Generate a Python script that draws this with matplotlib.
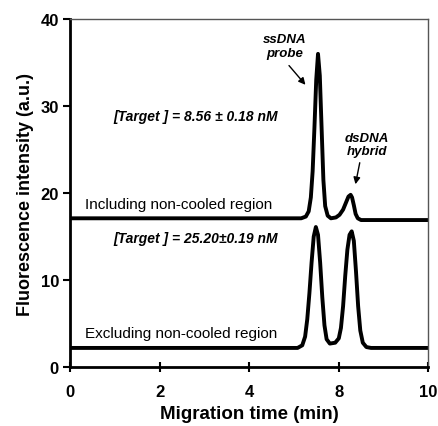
import numpy as np
import matplotlib
matplotlib.use('Agg')
import matplotlib.pyplot as plt

plt.rcParams['font.family'] = ['Liberation Sans', 'DejaVu Sans']

# axis positions are drawn with equal spacing, labels as printed on the original
xtick_pos = [0, 2.5, 5, 7.5, 10]
xtick_lab = ['0', '2', '4', '8', '10']
ytick_pos = [0, 10, 20, 30, 40]

# upper trace: including non-cooled region
x_inc = [0, 6.45, 6.58, 6.66, 6.72, 6.77, 6.82, 6.87, 6.92, 6.97, 7.02, 7.07, 7.12,
         7.19, 7.28, 7.42, 7.52, 7.62, 7.70, 7.77, 7.83, 7.87, 7.92, 7.97, 8.03,
         8.12, 8.30, 10]
y_inc = [17.1, 17.1, 17.3, 17.9, 19.5, 22.5, 27.5, 33.0, 36.0, 33.5, 27.5, 21.5,
         18.5, 17.4, 17.1, 17.2, 17.5, 18.1, 18.9, 19.6, 19.8, 19.5, 18.6, 17.6,
         17.1, 16.9, 16.9, 16.9]

# lower trace: excluding non-cooled region
x_exc = [0, 6.35, 6.48, 6.56, 6.62, 6.68, 6.74, 6.80, 6.86, 6.92, 6.98, 7.04, 7.10,
         7.16, 7.25, 7.40, 7.50, 7.56, 7.62, 7.68, 7.74, 7.80, 7.86, 7.92, 7.98,
         8.04, 8.10, 8.17, 8.27, 8.40, 10]
y_exc = [2.2, 2.2, 2.5, 3.5, 5.5, 8.5, 12.0, 15.0, 16.1, 15.2, 12.0, 8.0, 4.8,
         3.2, 2.7, 2.8, 3.3, 4.5, 7.0, 10.5, 13.5, 15.2, 15.6, 14.5, 11.0,
         7.0, 4.2, 2.8, 2.3, 2.2, 2.2]

fig = plt.figure(figsize=(4.38, 4.27), dpi=100)
ax = fig.add_axes([0.160, 0.138, 0.818, 0.815])

ax.plot(x_inc, y_inc, color='black', lw=2.8, solid_joinstyle='round')
ax.plot(x_exc, y_exc, color='black', lw=2.8, solid_joinstyle='round')

ax.set_xlim(0, 10)
ax.set_ylim(0, 40)
ax.set_xticks(xtick_pos)
ax.set_xticklabels(xtick_lab)
ax.set_yticks(ytick_pos)

for s in ['left', 'bottom']:
    ax.spines[s].set_linewidth(2)
for s in ['top', 'right']:
    ax.spines[s].set_linewidth(1)
    ax.spines[s].set_color('#555555')

ax.tick_params(axis='x', direction='inout', length=7, width=1.5, pad=9)
ax.tick_params(axis='y', direction='out', length=5, width=1.5, pad=3)
for lab in ax.get_xticklabels() + ax.get_yticklabels():
    lab.set_fontsize(12)
    lab.set_fontweight('bold')

ax.set_xlabel('Migration time (min)', fontsize=13.5, fontweight='bold', labelpad=4)
ax.set_ylabel('Fluorescence intensity (a.u.)', fontsize=13, fontweight='bold', labelpad=5)

ax.text(0.42, 18.3, 'Including non-cooled region', fontsize=11)
ax.text(0.42, 3.4, 'Excluding non-cooled region', fontsize=11)
ax.text(3.5, 28.9, '[Target ] = 8.56 \u00b1 0.18 nM', fontsize=10, fontweight='bold',
        style='italic', ha='center', va='center')
ax.text(3.5, 14.8, '[Target ] = 25.20\u00b10.19 nM', fontsize=10, fontweight='bold',
        style='italic', ha='center', va='center')

ax.text(6.0, 36.9, 'ssDNA\nprobe', fontsize=9.5, fontweight='bold', style='italic',
        ha='center', va='center', linespacing=1.15)
ax.annotate('', xy=(6.62, 32.2), xytext=(6.06, 34.9),
            arrowprops=dict(arrowstyle='-|>', color='black', lw=1, mutation_scale=10))

ax.text(8.28, 25.6, 'dsDNA\nhybrid', fontsize=9.5, fontweight='bold', style='italic',
        ha='center', va='center', linespacing=1.15)
ax.annotate('', xy=(7.95, 20.7), xytext=(8.1, 23.8),
            arrowprops=dict(arrowstyle='-|>', color='black', lw=1, mutation_scale=10))

plt.savefig('out.png', dpi=100)
